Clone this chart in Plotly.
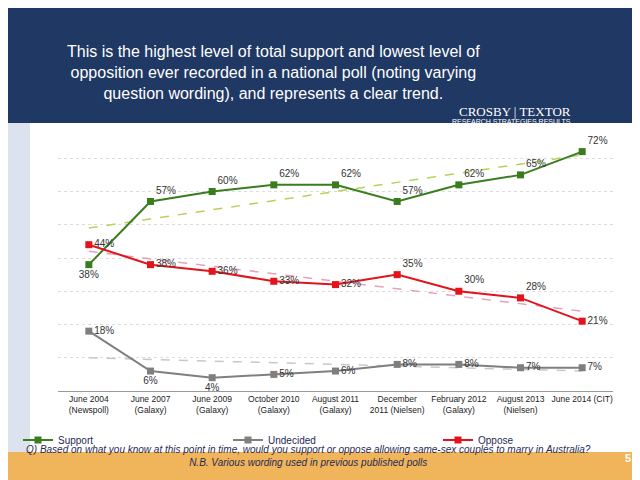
import plotly.graph_objects as go

polls = ["June 2004<br>(Newspoll)", "June 2007<br>(Galaxy)", "June 2009<br>(Galaxy)",
         "October 2010<br>(Galaxy)", "August 2011<br>(Galaxy)", "December<br>2011 (Nielsen)",
         "February 2012<br>(Galaxy)", "August 2013<br>(Nielsen)", "June 2014 (CIT)"]
support = [38, 57, 60, 62, 62, 57, 62, 65, 72]
undecided = [18, 6, 4, 5, 6, 8, 8, 7, 7]
oppose = [44, 38, 36, 33, 32, 35, 30, 28, 21]
# trend line end values
support_trend = [49, 71]
undecided_trend = [10, 6]
oppose_trend = [42, 24]

x = list(range(len(polls)))
ends = [x[0], x[-1]]

fig = go.Figure()
font_lbl = dict(family="Arial", size=10, color="#333333")

fig.add_trace(go.Scatter(x=ends, y=support_trend, mode="lines", showlegend=False,
                         line=dict(color="#b5d25a", dash="dash", width=1.5)))
fig.add_trace(go.Scatter(x=ends, y=oppose_trend, mode="lines", showlegend=False,
                         line=dict(color="#e8a0b8", dash="dash", width=1.5)))
fig.add_trace(go.Scatter(x=ends, y=undecided_trend, mode="lines", showlegend=False,
                         line=dict(color="#c8c8c8", dash="dash", width=1.5)))

fig.add_trace(go.Scatter(x=x, y=support, name="Support", mode="lines+markers+text",
                         text=[f"{v}%" for v in support], textfont=font_lbl,
                         textposition=["bottom center"] + ["top right"] * 8,
                         line=dict(color="#3a7d1e", width=2), marker=dict(symbol="square", size=7)))
fig.add_trace(go.Scatter(x=x, y=undecided, name="Undecided", mode="lines+markers+text",
                         text=[f"{v}%" for v in undecided], textfont=font_lbl,
                         textposition=["middle right", "bottom center", "bottom center", "middle right",
                                       "middle right", "middle right", "middle right", "middle right", "middle right"],
                         line=dict(color="#7f7f7f", width=2), marker=dict(symbol="square", size=7)))
fig.add_trace(go.Scatter(x=x, y=oppose, name="Oppose", mode="lines+markers+text",
                         text=[f"{v}%" for v in oppose], textfont=font_lbl,
                         textposition=["middle right"] * 5 + ["top right"] * 3 + ["middle right"],
                         line=dict(color="#e3121b", width=2), marker=dict(symbol="square", size=7)))

shapes = [
    dict(type="rect", xref="paper", yref="paper", x0=0, x1=1, y0=1 - 115 / 480, y1=1,
         fillcolor="#1f3864", line_width=0, layer="below"),
    dict(type="rect", xref="paper", yref="paper", x0=0, x1=1, y0=0, y1=36 / 480,
         fillcolor="#f0b45a", line_width=0, layer="below"),
    dict(type="rect", xref="paper", yref="paper", x0=0, x1=22 / 640, y0=36 / 480, y1=1 - 115 / 480,
         fillcolor="#dde3ee", line_width=0, layer="below"),
]

fig.update_layout(
    width=640, height=480, margin=dict(l=0, r=0, t=0, b=0),
    paper_bgcolor="white", plot_bgcolor="rgba(0,0,0,0)",
    font=dict(family="Arial", color="#222222"),
    shapes=shapes,
    xaxis=dict(domain=[50 / 640, 605 / 640], range=[-0.5, 8.5], tickmode="array",
               tickvals=x, ticktext=polls, tickfont=dict(size=8.5, color="#222"),
               showgrid=False, showline=True, linecolor="#999", ticks="outside",
               ticklen=0, zeroline=False),
    yaxis=dict(domain=[1 - 383 / 480, 1 - 117 / 480], range=[0, 80], dtick=10,
               showticklabels=False, gridcolor="#dddddd", griddash="dot", zeroline=False),
    legend=dict(orientation="h", x=0.52, xanchor="center", y=432 / 480 * -1 + 1, yanchor="middle",
                entrywidth=165, font=dict(size=10, color="#1f2a55"), bgcolor="rgba(0,0,0,0)"),
    annotations=[
        dict(text="This is the highest level of total support and lowest level of<br>"
                  "opposition ever recorded in a national poll (noting varying<br>"
                  "question wording), and represents a clear trend.",
             xref="paper", yref="paper", x=265 / 640, y=1 - 33 / 480, yanchor="top",
             showarrow=False, font=dict(size=16, color="white", family="Arial")),
        dict(text="CROSBY | TEXTOR", xref="paper", yref="paper", x=565 / 640, y=1 - 94 / 480,
             showarrow=False, font=dict(size=13, color="white", family="Liberation Serif")),
        dict(text="RESEARCH STRATEGIES RESULTS", xref="paper", yref="paper", x=565 / 640,
             y=1 - 108 / 480, showarrow=False, font=dict(size=7, color="white")),
        dict(text="<i>Q) Based on what you know at this point in time, would you support or oppose "
                  "allowing same-sex couples to marry in Australia?<br>N.B. Various wording used in "
                  "previous published polls</i>",
             xref="paper", yref="paper", x=300 / 640, y=18 / 480, showarrow=False,
             font=dict(size=10, color="#1f2a55")),
        dict(text="<b>5</b>", xref="paper", yref="paper", x=625 / 640, y=22 / 480,
             showarrow=False, font=dict(size=11, color="white")),
    ],
)

fig.write_html("out.html")
